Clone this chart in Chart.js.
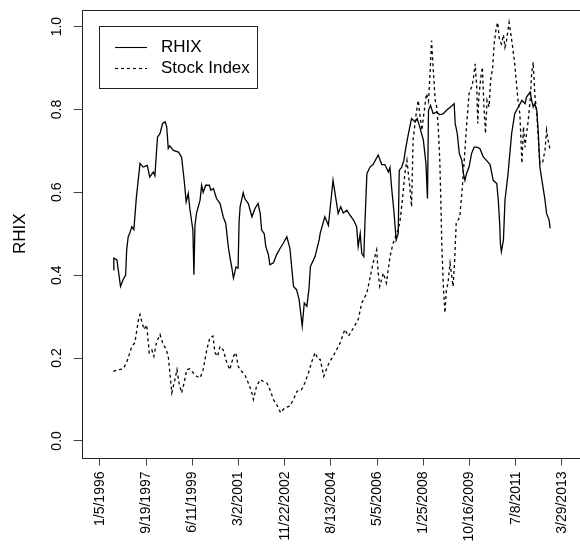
<!DOCTYPE html>
<html>
<head>
<meta charset="utf-8">
<script src="https://cdn.jsdelivr.net/npm/chart.js@4.4.0/dist/chart.umd.min.js"></script>
<style>
  html, body { margin: 0; padding: 0; overflow: hidden; background: #fff; }
  canvas { display: block; }
</style>
</head>
<body>
<canvas id="chart" width="600" height="549"></canvas>
<script>
// Weekly observations, counted from the week of 1/5/1996.
const tickIndex = [0, 90, 180, 270, 360, 450, 540, 630, 720, 810, 900];
const tickLabels = ['1/5/1996', '9/19/1997', '6/11/1999', '3/2/2001', '11/22/2002',
  '8/13/2004', '5/5/2006', '1/25/2008', '10/16/2009', '7/8/2011', '3/29/2013'];
const yTicks = [0, 0.2, 0.4, 0.6, 0.8, 1.0];
const yTickLabels = ['0.0', '0.2', '0.4', '0.6', '0.8', '1.0'];

const rhixWeek = [26,27,33,40,45,50,52,55,58,62,66,71,78,84,92,97,104,107,112,117,122,127,130,133,136,143,153,159,164,168,172,175,181,183,185,188,195,198,201,206,213,216,221,227,234,240,245,250,253,257,260,265,269,271,273,279,282,289,296,302,308,312,315,320,323,328,331,338,344,351,357,364,370,377,383,388,394,398,403,407,410,419,427,429,438,445,454,460,464,469,474,481,487,494,500,503,507,510,514,516,520,526,532,542,549,555,562,565,568,573,577,581,583,588,592,596,601,607,614,618,623,630,635,638,640,644,649,656,662,669,675,683,690,692,696,700,705,708,711,714,719,724,729,734,740,747,753,760,766,773,776,779,780,782,786,789,795,802,808,815,822,828,831,838,841,844,847,851,854,857,862,867,870,875,877];
const rhixValue = [0.413,0.441,0.437,0.373,0.389,0.400,0.461,0.493,0.501,0.517,0.510,0.589,0.670,0.661,0.665,0.637,0.649,0.640,0.733,0.742,0.766,0.770,0.758,0.706,0.712,0.701,0.697,0.685,0.629,0.577,0.597,0.561,0.509,0.401,0.520,0.549,0.581,0.617,0.600,0.617,0.617,0.605,0.609,0.585,0.573,0.541,0.525,0.469,0.445,0.417,0.393,0.420,0.417,0.529,0.565,0.599,0.585,0.573,0.541,0.561,0.573,0.550,0.509,0.500,0.469,0.450,0.425,0.430,0.449,0.465,0.477,0.493,0.465,0.373,0.365,0.341,0.277,0.333,0.325,0.365,0.421,0.445,0.485,0.501,0.541,0.520,0.629,0.581,0.549,0.565,0.550,0.557,0.545,0.533,0.517,0.469,0.501,0.453,0.445,0.520,0.645,0.661,0.667,0.690,0.667,0.667,0.649,0.660,0.613,0.549,0.485,0.501,0.653,0.661,0.677,0.709,0.742,0.778,0.770,0.778,0.758,0.726,0.670,0.585,0.798,0.810,0.790,0.794,0.787,0.790,0.798,0.806,0.814,0.766,0.742,0.694,0.677,0.645,0.629,0.645,0.661,0.694,0.709,0.709,0.706,0.685,0.677,0.667,0.629,0.621,0.581,0.517,0.477,0.457,0.485,0.581,0.645,0.742,0.790,0.806,0.822,0.814,0.830,0.842,0.822,0.806,0.814,0.798,0.742,0.661,0.621,0.581,0.549,0.533,0.513];

const stockWeek = [26,36,45,52,62,68,75,78,81,86,91,93,96,101,105,110,117,122,129,133,140,146,150,154,159,164,169,175,182,188,195,201,208,214,220,224,229,234,240,247,253,260,265,269,276,282,289,296,299,305,312,318,325,331,338,344,352,360,370,377,384,393,399,406,412,419,425,429,436,445,458,468,477,484,494,503,510,520,526,532,539,542,545,552,558,565,571,578,584,589,594,598,603,607,610,616,620,623,627,631,636,640,643,646,649,653,656,659,662,664,666,669,672,675,678,682,685,688,691,694,701,706,711,714,719,724,727,731,734,736,738,742,745,748,751,754,758,761,765,768,772,775,778,782,786,789,792,797,800,804,808,812,815,818,822,825,828,831,834,838,841,844,847,851,854,857,862,867,870,873,877];
const stockValue = [0.168,0.172,0.174,0.189,0.228,0.237,0.293,0.305,0.290,0.269,0.280,0.253,0.213,0.220,0.204,0.237,0.257,0.237,0.220,0.204,0.116,0.148,0.172,0.140,0.116,0.140,0.172,0.174,0.164,0.156,0.152,0.172,0.220,0.249,0.253,0.213,0.204,0.228,0.220,0.189,0.172,0.204,0.213,0.180,0.168,0.160,0.140,0.116,0.100,0.132,0.148,0.144,0.140,0.124,0.100,0.088,0.068,0.080,0.084,0.100,0.120,0.124,0.140,0.164,0.189,0.213,0.197,0.197,0.156,0.185,0.213,0.237,0.269,0.253,0.273,0.293,0.333,0.357,0.393,0.429,0.461,0.405,0.373,0.405,0.381,0.445,0.477,0.500,0.525,0.580,0.645,0.677,0.620,0.565,0.726,0.790,0.822,0.790,0.750,0.790,0.838,0.820,0.886,0.966,0.902,0.822,0.806,0.758,0.677,0.581,0.469,0.373,0.309,0.365,0.381,0.429,0.400,0.373,0.437,0.525,0.541,0.613,0.702,0.758,0.838,0.854,0.870,0.910,0.854,0.766,0.830,0.878,0.902,0.806,0.742,0.822,0.806,0.870,0.902,0.958,0.998,1.010,0.970,0.958,0.980,0.950,0.966,1.010,0.986,0.950,0.910,0.854,0.814,0.790,0.670,0.758,0.709,0.742,0.770,0.822,0.886,0.914,0.838,0.790,0.726,0.670,0.670,0.702,0.750,0.726,0.702];

const toPoints = (xs, ys) => xs.map((x, i) => ({ x: x, y: ys[i] }));

const FONT = '"Liberation Sans", Arial, Helvetica, sans-serif';
const INK = '#000';

// Base-graphics look: frame box, rotated tick labels, axis title and legend box.
const framePlugin = {
  id: 'frame',
  afterDraw(chart) {
    const { ctx, chartArea: a, scales } = chart;
    const xs = scales.x, ys = scales.y;
    ctx.save();
    ctx.strokeStyle = '#222';
    ctx.lineWidth = 1;
    ctx.strokeRect(Math.round(a.left) + 0.5, Math.round(a.top) + 0.5,
      Math.round(a.right - a.left), Math.round(a.bottom - a.top));

    ctx.fillStyle = INK;
    // x tick labels, perpendicular to the axis
    ctx.font = '14px ' + FONT;
    ctx.textAlign = 'right';
    ctx.textBaseline = 'middle';
    tickIndex.forEach((v, i) => {
      const px = xs.getPixelForValue(v);
      ctx.save();
      ctx.translate(px, a.bottom + 14);
      ctx.rotate(-Math.PI / 2);
      ctx.fillText(tickLabels[i], 0, 0);
      ctx.restore();
    });
    // y tick labels, parallel to the axis
    ctx.textAlign = 'center';
    yTicks.forEach((v, i) => {
      const py = ys.getPixelForValue(v);
      ctx.save();
      ctx.translate(57, py);
      ctx.rotate(-Math.PI / 2);
      ctx.fillText(yTickLabels[i], 0, 0);
      ctx.restore();
    });
    // y axis title
    ctx.font = '17px ' + FONT;
    ctx.save();
    ctx.translate(20, (a.top + a.bottom) / 2);
    ctx.rotate(-Math.PI / 2);
    ctx.fillText('RHIX', 0, 0);
    ctx.restore();

    // legend
    const lx = 99.5, ly = 26.5, lw = 158, lh = 62;
    ctx.strokeStyle = '#222';
    ctx.strokeRect(lx, ly, lw, lh);
    const rows = [
      { label: 'RHIX', dash: [], y: 47.5 },
      { label: 'Stock Index', dash: [3, 3], y: 68.5 }
    ];
    ctx.textAlign = 'left';
    ctx.font = '17px ' + FONT;
    rows.forEach(r => {
      ctx.beginPath();
      ctx.setLineDash(r.dash);
      ctx.strokeStyle = INK;
      ctx.lineWidth = 1.1;
      ctx.moveTo(115, r.y);
      ctx.lineTo(147, r.y);
      ctx.stroke();
      ctx.setLineDash([]);
      ctx.fillText(r.label, 161, r.y);
    });
    ctx.restore();
  }
};

new Chart(document.getElementById('chart'), {
  type: 'line',
  data: {
    datasets: [
      {
        label: 'RHIX',
        data: toPoints(rhixWeek, rhixValue),
        borderColor: INK,
        borderWidth: 1.3,
        pointRadius: 0,
        tension: 0,
        fill: false
      },
      {
        label: 'Stock Index',
        data: toPoints(stockWeek, stockValue),
        borderColor: INK,
        borderWidth: 1.3,
        borderDash: [3, 3],
        pointRadius: 0,
        tension: 0,
        fill: false
      }
    ]
  },
  options: {
    responsive: false,
    animation: false,
    devicePixelRatio: 1,
    layout: { padding: { left: 0, top: 10, right: 17, bottom: 0 } },
    plugins: { legend: { display: false }, tooltip: { enabled: false } },
    scales: {
      x: {
        type: 'linear',
        min: -36,
        max: 941,
        afterBuildTicks: s => { s.ticks = tickIndex.map(v => ({ value: v })); },
        afterFit: s => { s.height = 91.5; },
        ticks: { display: false },
        border: { display: false },
        grid: { drawOnChartArea: false, drawTicks: true, tickLength: 8, color: '#444', lineWidth: 1 }
      },
      y: {
        type: 'linear',
        min: -0.04,
        max: 1.04,
        afterBuildTicks: s => { s.ticks = yTicks.map(v => ({ value: v })); },
        afterFit: s => { s.width = 81.5; },
        ticks: { display: false },
        border: { display: false },
        grid: { drawOnChartArea: false, drawTicks: true, tickLength: 8, color: '#444', lineWidth: 1 }
      }
    }
  },
  plugins: [framePlugin]
});
</script>
</body>
</html>
